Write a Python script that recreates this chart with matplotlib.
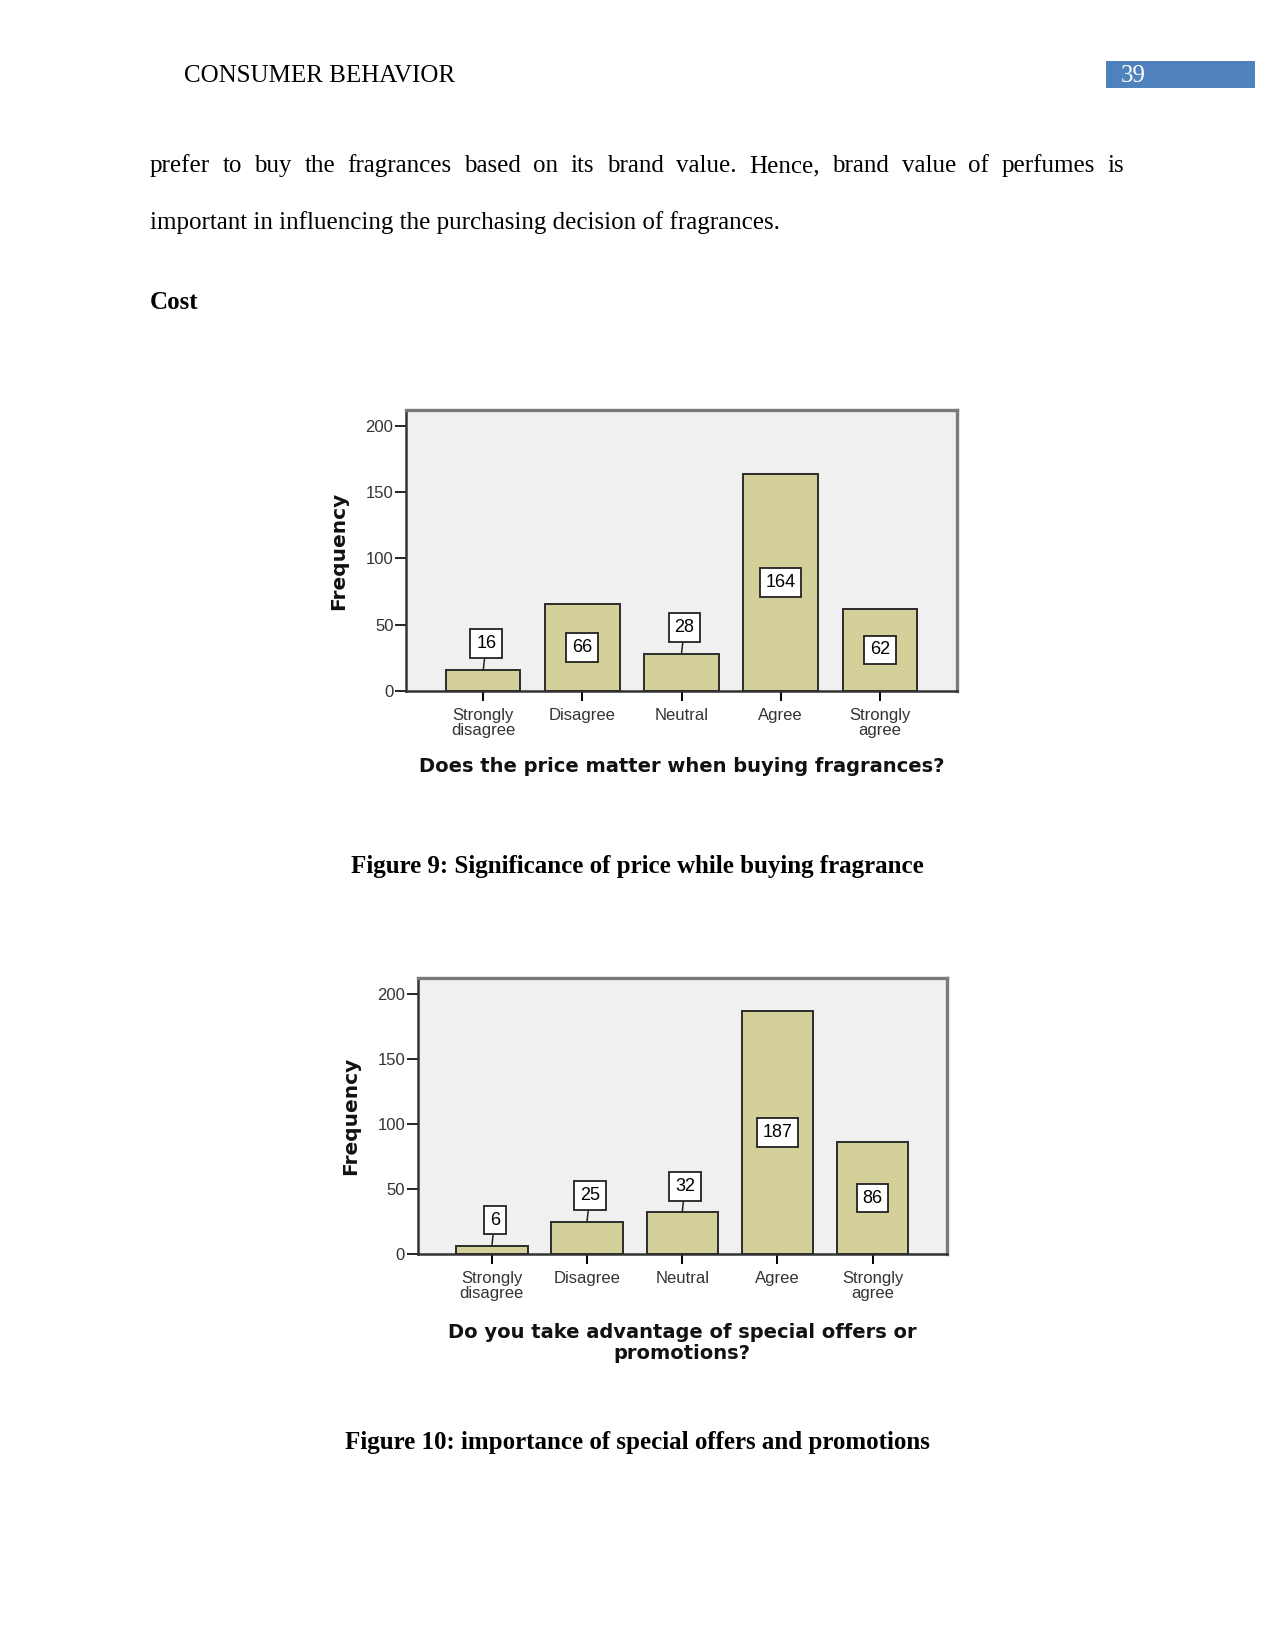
import matplotlib
matplotlib.use("Agg")
import matplotlib.pyplot as plt
from matplotlib.patches import Rectangle

# ---------------- data ----------------
categories = ["Strongly\ndisagree", "Disagree", "Neutral", "Agree", "Strongly\nagree"]
price_values = [16, 66, 28, 164, 62]
promo_values = [6, 25, 32, 187, 86]
y_ticks = [0, 50, 100, 150, 200]

header_text = "CONSUMER BEHAVIOR"
page_number = "39"
body_line1 = "prefer to buy the fragrances based on its brand value. Hence, brand value of perfumes is"
body_line2 = "important in influencing the purchasing decision of fragrances."
section_title = "Cost"
chart1_xlabel = "Does the price matter when buying fragrances?"
chart2_xlabel = "Do you take advantage of special offers or\npromotions?"
caption1 = "Figure 9: Significance of price while buying fragrance"
caption2 = "Figure 10: importance of special offers and promotions"

W, H = 1275, 1650
fig = plt.figure(figsize=(W / 100, H / 100), dpi=100)
fig.patch.set_facecolor("white")

SERIF = ["Liberation Serif", "DejaVu Serif"]
SANS_N = ["Liberation Sans Narrow", "Liberation Sans", "DejaVu Sans"]
FS = 18

def px(x, y):
    return x / W, 1 - y / H

# ---------------- page text ----------------
fig.text(*px(184, 76), header_text, family=SERIF, fontsize=FS, va="center", ha="left")
fig.patches.append(Rectangle(px(1106, 88), (1255 - 1106) / W, 27 / H,
                             transform=fig.transFigure, facecolor="#4F81BD",
                             edgecolor="none"))
fig.text(*px(1121, 76), page_number, family=SERIF, fontsize=FS, color="white",
         va="center", ha="left")

renderer = fig.canvas.get_renderer()

def justified(line, x0, x1, y, **kw):
    words = line.split(" ")
    texts = [fig.text(0, 0, w, **kw) for w in words]
    widths = [t.get_window_extent(renderer).width for t in texts]
    gap = (x1 - x0 - sum(widths)) / (len(words) - 1)
    x = x0
    for t, w in zip(texts, widths):
        t.set_position(px(x, y))
        t.set_va("baseline")
        x += w + gap

justified(body_line1, 150, 1124, 172, family=SERIF, fontsize=FS)
fig.text(*px(150, 229), body_line2, family=SERIF, fontsize=FS, va="baseline")
fig.text(*px(150, 309), section_title, family=SERIF, fontsize=FS,
         fontweight="bold", va="baseline")

fig.text(*px(637, 866), caption1, family=SERIF, fontsize=FS, fontweight="bold",
         ha="center", va="center")
fig.text(*px(637, 1442), caption2, family=SERIF, fontsize=FS, fontweight="bold",
         ha="center", va="center")

# ---------------- charts ----------------
def bar_chart(rect, values, xlabel, xlabel_y, ylabel_x):
    ax = fig.add_axes(rect)
    ax.set_facecolor("#F0F0F0")
    x = list(range(len(categories)))
    ax.bar(x, values, width=0.75, color="#D4D09A", edgecolor="#2b2b2b",
           linewidth=1.4, zorder=3)
    ax.set_xlim(-0.78, 4.78)
    ax.set_ylim(0, 212)
    ax.set_yticks(y_ticks)
    ax.set_yticklabels([str(t) for t in y_ticks], family=SANS_N, fontsize=12,
                       color="#333333")
    ax.set_xticks(x)
    ax.set_xticklabels(categories, family=SANS_N, fontsize=12, color="#333333",
                       linespacing=1.0)
    ax.tick_params(axis="y", length=8, width=1.2, pad=1)
    ax.tick_params(axis="x", length=7, width=1.4, pad=5)
    for s in ["top", "right"]:
        ax.spines[s].set_color("#7a7a7a")
        ax.spines[s].set_linewidth(2.4)
    for s in ["left", "bottom"]:
        ax.spines[s].set_color("#333333")
        ax.spines[s].set_linewidth(1.8)
    bbox = dict(boxstyle="square,pad=0.32", facecolor="white",
                edgecolor="#222222", linewidth=1.3)
    for i, v in enumerate(values):
        if v >= 50:
            ax.text(i, v / 2, str(v), ha="center", va="center", family=SANS_N,
                    fontsize=13, bbox=bbox, zorder=5)
        else:
            ax.annotate(str(v), xy=(i, v), xytext=(i + 0.03, v + 20),
                        ha="center", va="center", family=SANS_N, fontsize=13,
                        bbox=bbox, zorder=5,
                        arrowprops=dict(arrowstyle="-", color="#222222",
                                        linewidth=1.1, shrinkA=0, shrinkB=0))
    cx = rect[0] + rect[2] / 2
    fig.text(cx, xlabel_y, xlabel, fontsize=14, fontweight="bold",
             family="DejaVu Sans", ha="center", va="center", linespacing=1.15,
             color="#111111")
    fig.text(ylabel_x, rect[1] + rect[3] / 2, "Frequency", rotation=90,
             fontsize=14.5, fontweight="bold", family="DejaVu Sans",
             ha="center", va="center", color="#111111")
    return ax

r1 = [406 / W, 1 - 691 / H, (957 - 406) / W, (691 - 410) / H]
bar_chart(r1, price_values, chart1_xlabel, 1 - 766 / H, 339 / W)

r2 = [417.6 / W, 1 - 1254 / H, (946.8 - 417.6) / W, (1254 - 978.4) / H]
bar_chart(r2, promo_values, chart2_xlabel, 1 - 1343 / H, 351 / W)

fig.savefig("out.png", dpi=100, facecolor="white")
